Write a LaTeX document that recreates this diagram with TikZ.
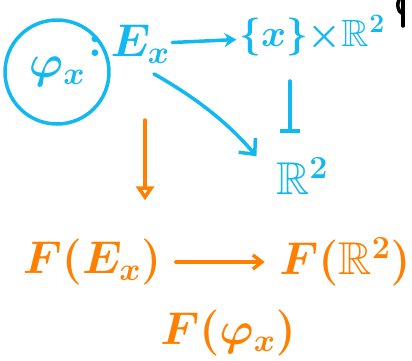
\RequirePackage{fix-cm}
\documentclass[tikz,border=0pt]{standalone}
\usepackage{amsmath}
\usepackage{amssymb}
\usepackage{tikz}
\usetikzlibrary{
	arrows.meta,
	calc,
	positioning
}
\definecolor{SkyCyan}{RGB}{18,184,240}
\definecolor{PenOrange}{RGB}{255,128,0}

\begin{document}
\begin{tikzpicture}[x=1pt, y=-1pt, line width=3.5pt, line cap=round, line join=round,
		every node/.style={font=\fontsize{46}{52}\selectfont\boldmath, inner sep=1pt}]
		\useasboundingbox (0,0) rectangle (412,360);
		
		% obere Zeile: Karte phi_x
		\node[SkyCyan, draw, circle, minimum size=104pt, inner sep=0pt] (phi) at (57,72) {$\varphi_x$};
		\node[SkyCyan] (colon) at (95,46) {$:$};
		\node[SkyCyan] (Ex) at (140,44) {$E_x$};
		\node[SkyCyan, font=\fontsize{38}{44}\selectfont\boldmath] (xR) at (312,36) {$\{x\}{\times}\mathbb{R}^2$};
		\node[SkyCyan] (R2) at (302,176) {$\mathbb{R}^2$};
		
		\draw[SkyCyan, -{Stealth[length=12pt, width=14pt]}] (Ex) -- (xR);
		\draw[SkyCyan, -{Bar[width=20pt]}, shorten <=22pt, shorten >=22pt] ([xshift=-12pt]xR.south -| R2.north) -- ([xshift=-12pt]R2.north);
		\draw[SkyCyan, -{Straight Barb[length=12pt, width=22pt]}, shorten <=16pt, shorten >=26pt] (Ex.south) to[bend left=10] (R2.west);
		
		% Funktor F
		\coordinate (top) at (145,120);
		\node[PenOrange] (FE) at (92,262) {$F(E_x)$};
		\node[PenOrange] (FR) at (345,262) {$F(\mathbb{R}^2)$};
		\node[PenOrange] (Fphi) at (228,333) {$F(\varphi_x)$};
		
		\draw[PenOrange, -{Triangle[open, length=14pt, width=18pt]}, shorten >=36pt] (top) -- (top |- FE.north);
		\draw[PenOrange, -{Straight Barb[length=9pt, width=14pt]}, shorten <=12pt, shorten >=12pt] (FE) -- (FR);
		
		% abgeschnittener Strich oben rechts
		\draw[black] (403,0) -- (403,26);
		\draw[black] (403,14) .. controls (397,12) and (397,3) .. (399,0);
	\end{tikzpicture}
\end{document}
